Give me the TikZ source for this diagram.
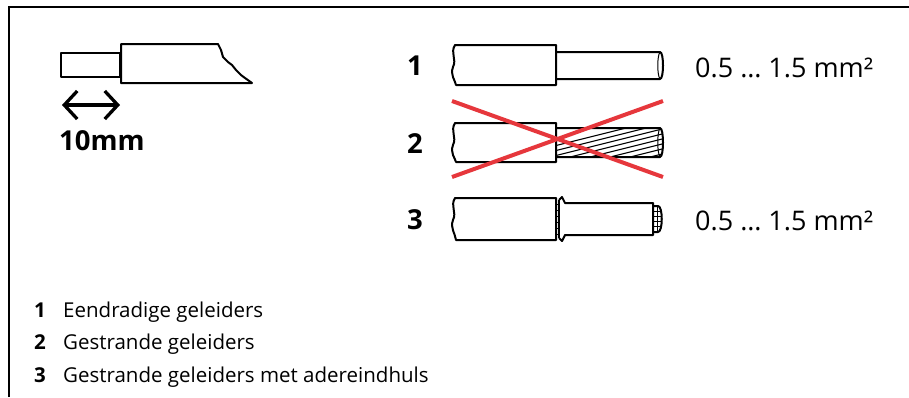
\documentclass[tikz,border=0pt]{standalone}
\usepackage{fontspec}
\setmainfont{Open Sans}
\usepackage{tikz}
\usetikzlibrary{positioning,arrows.meta}
\definecolor{crossred}{HTML}{E6373C}

\begin{document}
\begin{tikzpicture}[x=1pt,y=-1pt,
        wire/.style={line width=2pt, line join=round},
        strand/.style={line width=1.1pt},
        crossline/.style={line width=4pt, draw=crossred},
        bignum/.style={font=\fontsize{27.5}{30}\selectfont\bfseries, inner sep=0pt},
        spec/.style={font=\fontsize{27}{32}\selectfont, inner sep=0pt, anchor=base west},
        legend/.style={font=\fontsize{20.5}{24}\selectfont, inner sep=0pt, anchor=base west}]
        \newcommand{\sheathleft}{455} % cut edge of the sheath
        \newcommand{\sheathright}{556}
        \useasboundingbox (0,0) rectangle (909,397);
        \draw[line width=2.5pt] (9,397) -- (9,7) -- (909,7);

        % stripping length
        \draw[wire] (61,53) rectangle (120,77);
        \draw[wire] (121,44) -- (218,44) -- (221,50) -- (223,57) -- (228,62) -- (232,65) -- (236,70)
            -- (241,75) -- (245,78) -- (252,83) -- (121,83) -- cycle;
        \coordinate (stripL) at (62,105);
        \coordinate (stripR) at (120,105);
        \draw[line width=3.3pt, {Straight Barb[length=13pt,width=28pt]}-{Straight Barb[length=13pt,width=28pt]}] (stripL) -- (stripR);
        \node[bignum, anchor=base west] (striplen) at (59,150) {10mm};

        % sheaths of the three conductors
        \foreach \top/\h [count=\i] in {45/40,123/39,198/42} {
            \draw[wire, fill=white] (\sheathright,\top) -- (\sheathleft,\top)
                .. controls (\sheathleft-5,\top+8) and (\sheathleft+2,\top+14) .. (\sheathleft-2,\top+22)
                .. controls (\sheathleft-5,\top+30) and (\sheathleft,\top+35) .. (\sheathleft+1,\top+\h)
                -- (\sheathright,\top+\h) -- cycle;
            \node[bignum] (num\i) at (415,\top+\h/2+1) {\i};
        }

        % 1: solid conductor
        \draw[wire] (556,52) -- (660,52) .. controls (664,52) and (664,79) .. (660,79) -- (556,79);
        \draw[line width=1pt] (660,52) .. controls (657,56) and (657,75) .. (660,79);

        % 2: stranded conductor
        \begin{scope}
            \clip (556,128) -- (660,128) .. controls (664,128) and (664,157) .. (660,157) -- (556,157) -- cycle;
            \foreach \s in {0,...,10}
                \draw[strand] (490+\s*20,162) -- (630+\s*20,127);
        \end{scope}
        \draw[wire] (556,128) -- (660,128) .. controls (664,128) and (664,157) .. (660,157) -- (556,157);
        \draw[line width=1pt] (660,128) .. controls (657,132) and (657,153) .. (660,157);
        \coordinate (crossNW) at (452,101);
        \coordinate (crossNE) at (663,101);
        \coordinate (crossSW) at (452,177);
        \coordinate (crossSE) at (663,177);
        \draw[crossline] (crossNW) -- (crossSE);
        \draw[crossline] (crossSW) -- (crossNE);

        % 3: stranded conductor with ferrule
        \draw[line width=1.2pt] (559,200) -- (559,238);
        \foreach \t in {204,210,...,234}
            \draw[line width=1pt] (556,\t) -- (559,\t);
        \draw[wire] (559,200) -- (562,197) -- (565,203) -- (653,203) -- (653,235) -- (565,235) -- (562,241) -- (559,238);
        \draw[wire] (653,206) -- (658,206) .. controls (663,206) and (663,232) .. (658,232) -- (653,232);
        \draw[line width=1pt] (657,206) -- (657,232);
        \foreach \t in {211,216,...,228}
            \draw[line width=1pt] (653,\t) -- (661,\t);

        \node[spec] (spec1) at (695,77) {0.5 … 1.5 mm²};
        \node[spec] (spec3) at (695,230) {0.5 … 1.5 mm²};

        % legend
        \foreach \txt [count=\k] in {Eendradige geleiders, Gestrande geleiders, Gestrande geleiders met adereindhuls} {
            \node[legend, font=\fontsize{20.5}{24}\selectfont\bfseries] (legnum\k) at (34,317+32.5*\k-32.5) {\k};
            \node[legend] (legtxt\k) at (63,317+32.5*\k-32.5) {\txt};
        }
\end{tikzpicture}
\end{document}
